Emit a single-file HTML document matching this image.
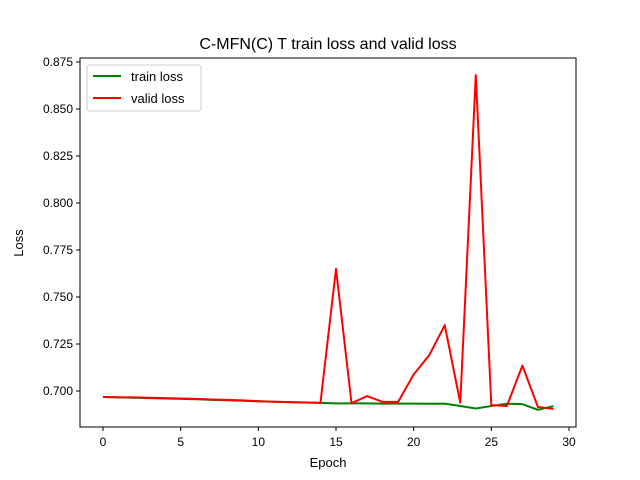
<!DOCTYPE html>
<html><head><meta charset="utf-8"><style>body{margin:0;background:#fff}svg{display:block;font-family:"Liberation Sans","DejaVu Sans",sans-serif}</style></head>
<body>
<svg id="chart" width="640" height="480">
<rect width="640" height="480" fill="#fff"/>
<text x="328" y="49" font-size="16" text-anchor="middle">C-MFN(C) T train loss and valid loss</text>
<g id="plot"></g>
<rect x="80" y="58" width="496" height="369" fill="none" stroke="#000" stroke-width="1"/>
<text x="328" y="467" font-size="13" text-anchor="middle">Epoch</text>
<text x="23" y="243" font-size="13" text-anchor="middle" transform="rotate(-90 23 243)">Loss</text>
<g>
<rect x="87" y="65" width="114" height="46" rx="3" fill="#fff" stroke="#ccc"/>
<line x1="93" y1="76" x2="121" y2="76" stroke="green" stroke-width="2"/>
<text x="131" y="81" font-size="13">train loss</text>
<line x1="93" y1="98" x2="121" y2="98" stroke="red" stroke-width="2"/>
<text x="131" y="103" font-size="13">valid loss</text>
</g>
</svg>
<script>
const epochs = [0,1,2,3,4,5,6,7,8,9,10,11,12,13,14,15,16,17,18,19,20,21,22,23,24,25,26,27,28,29];
const trainLoss = [0.6968,0.6966,0.6964,0.6962,0.6960,0.6958,0.6956,0.6953,0.6951,0.6948,0.6945,0.6943,0.6941,0.6939,0.6937,0.6934,0.6934,0.6934,0.6933,0.6933,0.6933,0.6932,0.6933,0.6920,0.6907,0.6920,0.6932,0.6930,0.6900,0.6920];
const validLoss = [0.6968,0.6967,0.6966,0.6964,0.6962,0.6960,0.6958,0.6955,0.6953,0.6950,0.6946,0.6943,0.6941,0.6939,0.6937,0.7650,0.6935,0.6973,0.6942,0.6942,0.7088,0.7190,0.7350,0.6938,0.8680,0.6925,0.6920,0.7135,0.6915,0.6905];
const xTicks = [0,5,10,15,20,25,30];
const yTicks = [0.700,0.725,0.750,0.775,0.800,0.825,0.850,0.875];
const NS="http://www.w3.org/2000/svg";
const xs = v => 103 + (v-0)*(569-103)/30;
const ys = v => 391 - (v-0.7)*47/0.025;
const g = document.getElementById('plot');
function mk(t,a){const e=document.createElementNS(NS,t);for(const k in a)e.setAttribute(k,a[k]);g.appendChild(e);return e;}
xTicks.forEach(t=>{
  mk('line',{x1:xs(t),x2:xs(t),y1:427,y2:431,stroke:'#000'});
  const tx=mk('text',{x:xs(t),y:446,'font-size':12,'text-anchor':'middle'});tx.textContent=t;
  
  
});
yTicks.forEach(t=>{
  mk('line',{x1:76,x2:80,y1:ys(t),y2:ys(t),stroke:'#000'});
  const tx=mk('text',{x:73,y:ys(t)+4,'font-size':12,'text-anchor':'end'});tx.textContent=t.toFixed(3);
  
  
});
function line(data,color,name){
  const p=mk('polyline',{points:data.map((v,i)=>xs(epochs[i])+','+ys(v)).join(' '),fill:'none',stroke:color,'stroke-width':2,'stroke-linejoin':'round'});
  
  
}
line(trainLoss,'green','train-loss-line');
line(validLoss,'red','valid-loss-line');
</script>
</body></html>
